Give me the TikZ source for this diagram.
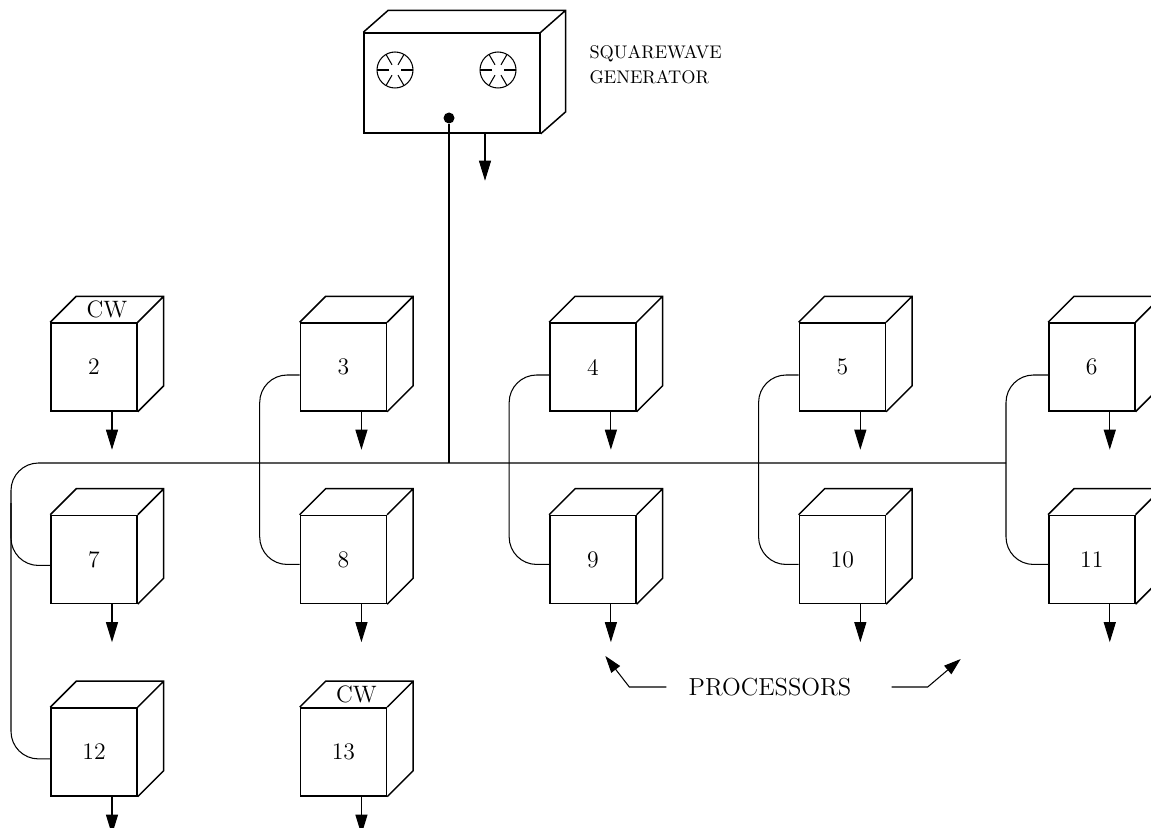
\documentclass[tikz,border=0pt]{standalone}
\usepackage{tikz}
\usetikzlibrary{positioning,arrows.meta,calc}

\begin{document}
\begin{tikzpicture}[
  x=0.02cm, y=-0.02cm,
  line width=0.6pt,
  node distance=2.06cm and 3.24cm,
  unit/.style={draw, line width=0.85pt, minimum width=1.72cm, minimum height=1.76cm, inner sep=0pt, font=\fontsize{13.5}{15}\selectfont},
  edge3d/.style={line width=0.85pt},
  wire/.style={rounded corners=0.55cm},
  outarr/.style={-{Triangle[length=0.4cm, width=0.24cm]}},
  hint/.style={-{Triangle[length=0.34cm, width=0.22cm]}}
]
\useasboundingbox (0,0) rectangle (1151,827);
\clip (0,0) rectangle (1151,827);

% generator
\node[draw, line width=0.85pt, minimum width=3.52cm, minimum height=2cm, inner sep=0pt] (gen) at (452,83) {};
\draw[edge3d] (gen.north west) -- ++(25,-22) -| ($(gen.south east)+(25,-22)$) -- (gen.south east)
  (gen.north east) -- ++(25,-22);
\foreach \cx in {395,498} {
  \draw (\cx,70) circle[radius=0.36cm];
  \foreach \a in {0,60,...,300}
    \draw ($(\cx,70)+(\a:6)$) -- ($(\cx,70)+(\a:18)$);
}
\node[circle, fill, inner sep=0pt, minimum size=0.22cm] (dot) at (449,118) {};
\draw[outarr] ([xshift=0.66cm]gen.south) -- ++(0,47);
\node[anchor=north west, align=left, inner sep=0pt, font=\fontsize{10.4}{14.2}\selectfont] (genlbl) at (589,45) {SQUAREWAVE\\GENERATOR};

% processors
\node[unit] (c2) at (94,367) {2};
\node[unit, right=of c2] (c3) {3};
\node[unit, right=of c3] (c4) {4};
\node[unit, right=of c4] (c5) {5};
\node[unit, right=of c5] (c6) {6};
\node[unit, below=of c2] (c7) {7};
\node[unit, below=of c3] (c8) {8};
\node[unit, below=of c4] (c9) {9};
\node[unit, below=of c5] (c10) {10};
\node[unit, below=of c6] (c11) {11};
\node[unit, below=of c7] (c12) {12};
\node[unit, below=of c8] (c13) {13};
\foreach \n in {2,...,13} {
  \draw[edge3d] (c\n.north west) -- ++(26,-26) -| ($(c\n.south east)+(26,-26)$) -- (c\n.south east)
    (c\n.north east) -- ++(26,-26);
  \draw[outarr] ([xshift=0.36cm]c\n.south) -- ++(0,38);
}
\node[font=\fontsize{13.5}{15}\selectfont] (cw2) at ($(c2.north)+(13,-13)$) {CW};
\node[font=\fontsize{13.5}{15}\selectfont] (cw13) at ($(c13.north)+(13,-13)$) {CW};

% bus
\coordinate (bl) at (11,463);
\coordinate (br) at (1006,463);
\draw[wire] ([yshift=-0.14cm]c12.west) -| (bl) -- (br);
\draw[wire] ([yshift=-0.12cm]c7.west) -| ($(bl)+(0,40)$);
\draw (dot) -- (dot |- bl);
\foreach \u/\l in {3/8,4/9,5/10}
  \draw[wire] ([yshift=-0.16cm]c\u.west) -- ++(-40,0) |- ([yshift=-0.1cm]c\l.west);
\draw[wire] ([yshift=-0.16cm]c6.west) -| (br) |- ([yshift=-0.1cm]c11.west);

\node[font=\fontsize{14}{16}\selectfont] (proc) at (770,687) {PROCESSORS};
\draw[hint] ($(proc.west)+(-16,0)$) -- ++(-37,0) -- ++(-24,-31);
\draw[hint] ($(proc.east)+(34,0)$) -- ++(36,0) -- ++(33,-28);
\end{tikzpicture}
\end{document}
